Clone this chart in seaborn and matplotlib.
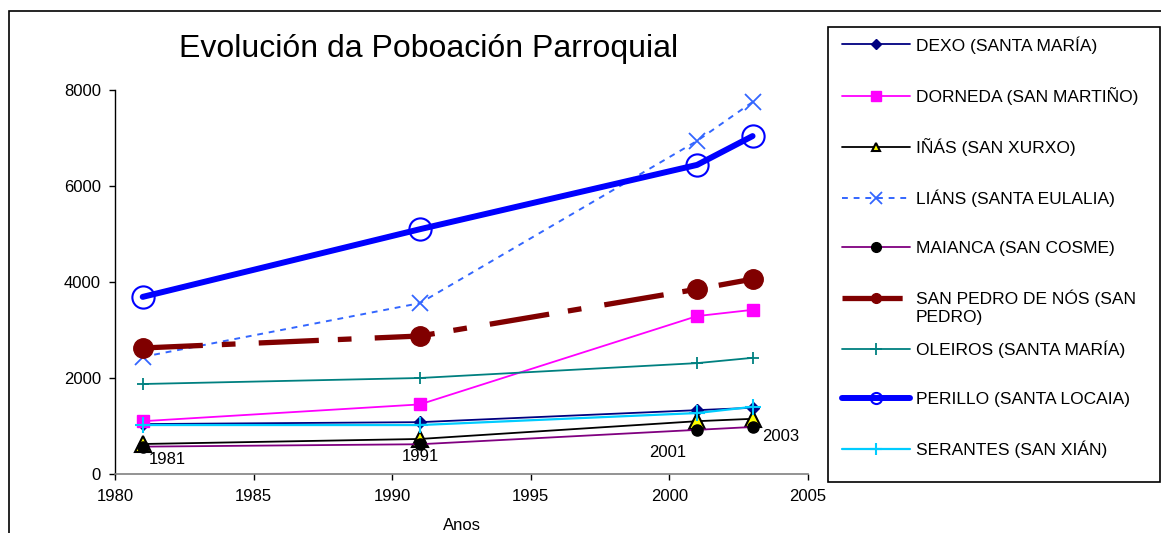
import numpy as np
import pandas as pd
import matplotlib
matplotlib.use("Agg")
import matplotlib.pyplot as plt
from matplotlib.patches import Rectangle
import seaborn as sns

# --- data ---
years = [1981, 1991, 2001, 2003]

dexo = [1040, 1080, 1330, 1380]
dorneda = [1100, 1450, 3290, 3420]
inas = [625, 730, 1100, 1150]
lians = [2440, 3560, 6940, 7750]
maianca = [570, 620, 920, 980]
san_pedro = [2625, 2875, 3850, 4060]
oleiros = [1875, 2000, 2310, 2420]
perillo = [3690, 5100, 6440, 7040]
serantes = [1020, 1020, 1270, 1400]

labels = [
    "DEXO (SANTA MARÍA)",
    "DORNEDA (SAN MARTIÑO)",
    "IÑÁS (SAN XURXO)",
    "LIÁNS (SANTA EULALIA)",
    "MAIANCA (SAN COSME)",
    "SAN PEDRO DE NÓS (SAN PEDRO)",
    "OLEIROS (SANTA MARÍA)",
    "PERILLO (SANTA LOCAIA)",
    "SERANTES (SAN XIÁN)",
]
series = [dexo, dorneda, inas, lians, maianca, san_pedro, oleiros, perillo, serantes]
year_labels = ["1981", "1991", "2001", "2003"]

# line styles per series (same order as labels); "lms" = marker size in the legend
styles = [
    dict(color="#000080", lw=1.3, marker="D", ms=6, mfc="#000080", mec="#000080", ls="-", lms=5),
    dict(color="#FF00FF", lw=1.3, marker="s", ms=8, mfc="#FF00FF", mec="#FF00FF", ls="-", lms=7),
    dict(color="#000000", lw=1.3, marker="^", ms=11, mfc="#FFFF00", mec="#000000", mew=1.5, ls="-", lms=6),
    dict(color="#3366FF", lw=1.4, marker="x", ms=12, mfc="#3366FF", mec="#3366FF", mew=1.3, ls=(0, (3, 3)), lms=9),
    dict(color="#800080", lw=1.3, marker="o", ms=8, mfc="#000000", mec="#000000", ls="-", lms=7),
    dict(color="#800000", lw=3.8, marker="o", ms=14, mfc="#800000", mec="#800000", ls=(0, (11.4, 3.6, 2.6, 4.4)), lms=7),
    dict(color="#008080", lw=1.3, marker="+", ms=9, mfc="#008080", mec="#008080", mew=1.3, ls="-", lms=8),
    dict(color="#0000FF", lw=4.3, marker="o", ms=16, mfc="none", mec="#0000FF", mew=1.5, ls="-", lms=8),
    dict(color="#00CCFF", lw=1.6, marker="+", ms=11, mfc="#00CCFF", mec="#00CCFF", mew=1.5, ls="-", lms=9),
]

sns.set_style("white")
plt.rcParams["font.family"] = ["Liberation Sans", "DejaVu Sans"]
plt.rcParams["text.color"] = "black"
plt.rcParams["axes.labelcolor"] = "black"

W, H = 1161, 533
fig = plt.figure(figsize=(W / 100, H / 100), dpi=100)
ax = fig.add_axes([115 / W, 1 - 474 / H, (808 - 115) / W, (474 - 90) / H])

for vals, lab, st in zip(series, labels, styles):
    df = pd.DataFrame({"year": years, "pop": vals})
    sns.lineplot(data=df, x="year", y="pop", ax=ax, label=lab,
                 color=st["color"], linewidth=st["lw"], linestyle=st["ls"],
                 marker=st["marker"], markersize=st["ms"],
                 markerfacecolor=st["mfc"], markeredgecolor=st["mec"],
                 markeredgewidth=st.get("mew", 1.0), clip_on=False)

# year labels next to the IÑÁS points
offsets = [(25, -16), (0, -18), (-29, -31), (28, -18)]
for yr, v, txt, off in zip(years, inas, year_labels, offsets):
    ax.annotate(txt, (yr, v), xytext=off, textcoords="offset pixels",
                ha="center", va="center", fontsize=12, color="black")

ax.set_xlim(1980, 2005)
ax.set_ylim(0, 8000)
ax.set_xticks(np.arange(1980, 2006, 5))
ax.set_yticks(np.arange(0, 8001, 2000))
ax.tick_params(axis="both", direction="out", length=4, width=1, labelsize=12,
               colors="black", bottom=True, left=True)
ax.tick_params(axis="x", pad=7)
ax.tick_params(axis="y", pad=6)
for s in ["top", "right"]:
    ax.spines[s].set_visible(False)
ax.spines["left"].set_color("black")
ax.spines["bottom"].set_color("#808080")
ax.spines["left"].set_linewidth(1)
ax.spines["bottom"].set_linewidth(1.2)
ax.set_xlabel("Anos", fontsize=12, labelpad=10, color="black")
ax.set_ylabel("")
ax.grid(False)

# title
fig.text(429 / W, 1 - 49 / H, "Evolución da Poboación Parroquial",
         ha="center", va="center", fontsize=23, color="black")

# legend: one row per series, long label wraps below its row like the original
handles, labs = ax.get_legend_handles_labels()
ax.get_legend().remove()
wrap_idx = 5
labs[wrap_idx] = "SAN PEDRO DE NÓS (SAN"
leg = fig.legend(handles, labs, loc="upper left", bbox_to_anchor=(842 / W, 1 - 36 / H),
                 frameon=False, fontsize=12.5, handlelength=3.9, handletextpad=0.35,
                 labelspacing=1.93, borderaxespad=0, borderpad=0)
for line, st in zip(leg.get_lines(), styles):
    line.set_markersize(st["lms"])
fig.canvas.draw()
bb = leg.get_texts()[wrap_idx].get_window_extent()
fig.text(bb.x0 / W, (bb.y0 - 18) / H, "PEDRO)", ha="left", va="bottom",
         fontsize=12.5, color="black")

fig.patches.append(Rectangle((828 / W, 1 - 482 / H), (1160 - 828) / W, (482 - 27) / H,
                             transform=fig.transFigure, fill=False, edgecolor="black", lw=1.2))

# outer chart frame
fig.patches.append(Rectangle((9 / W, -0.05), 1.2, 1 - 11 / H + 0.05,
                             transform=fig.transFigure, fill=False, edgecolor="black", lw=1.2))

fig.savefig("out.png", dpi=100)
